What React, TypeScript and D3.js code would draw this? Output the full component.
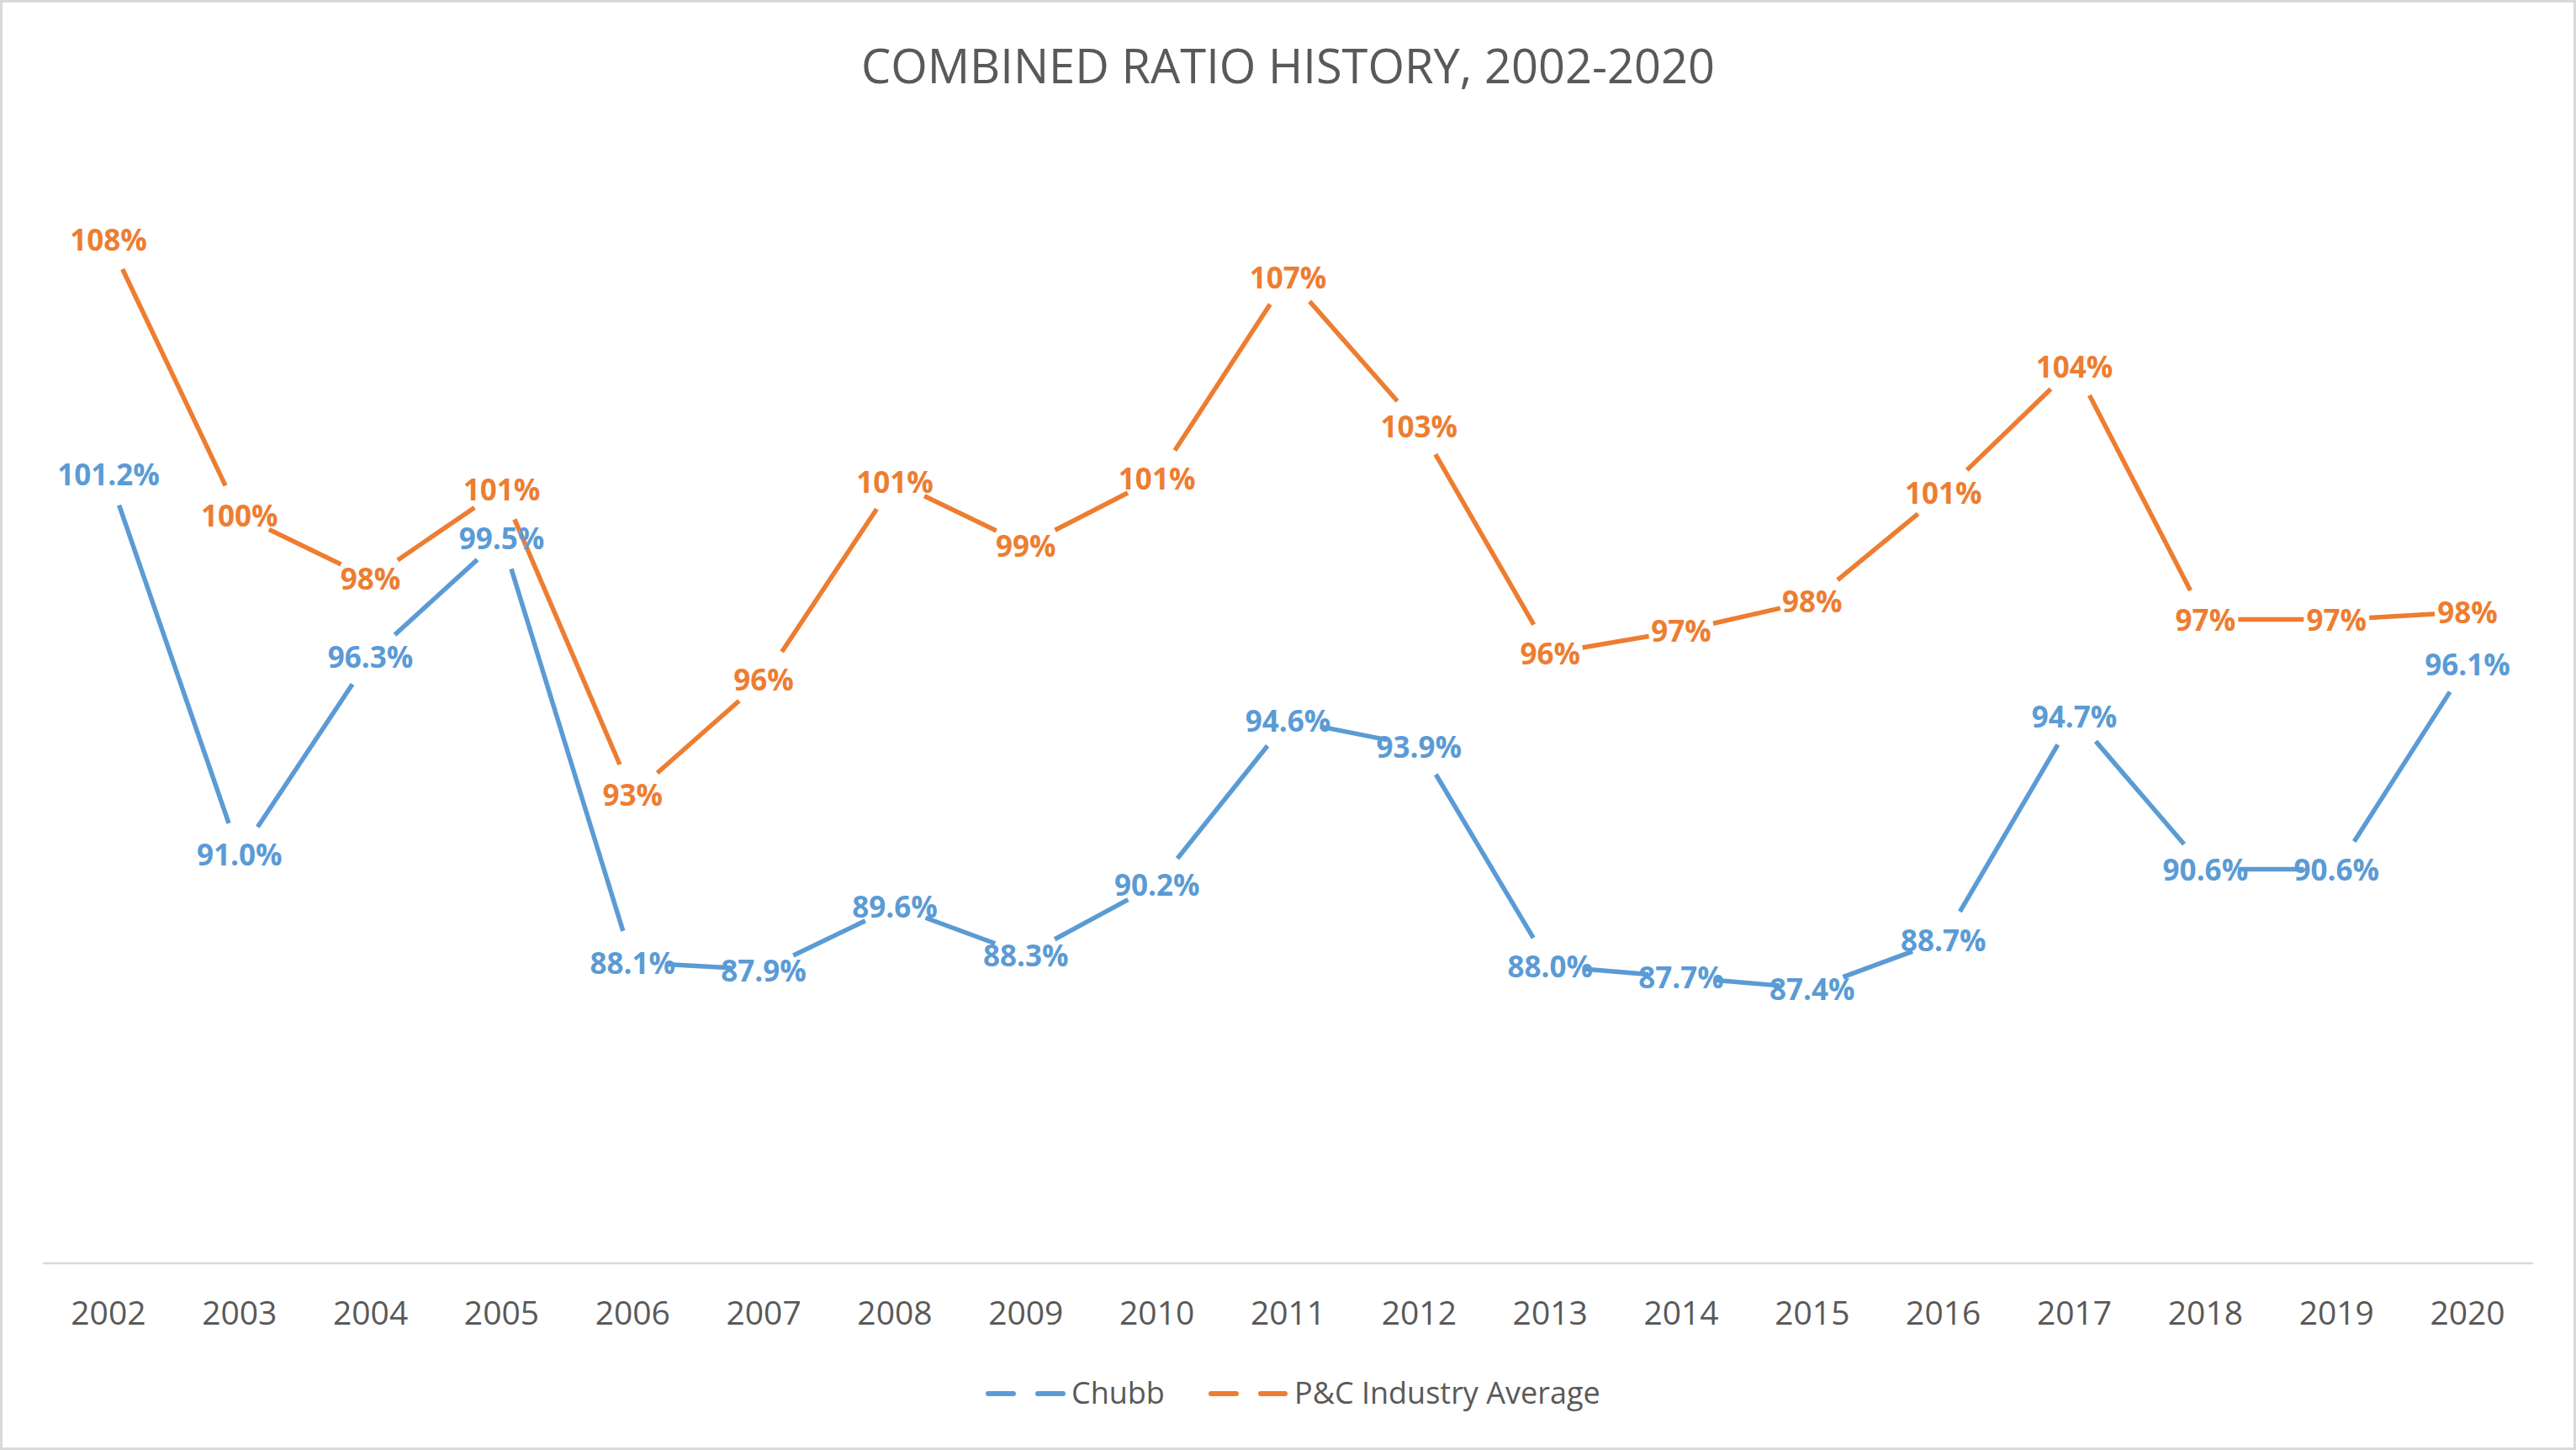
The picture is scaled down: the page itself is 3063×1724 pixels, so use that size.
import React from "react";
import * as d3 from "d3";

const years = [
  "2002", "2003", "2004", "2005", "2006", "2007", "2008", "2009", "2010", "2011",
  "2012", "2013", "2014", "2015", "2016", "2017", "2018", "2019", "2020",
];
const chubb = [
  101.2, 91.0, 96.3, 99.5, 88.1, 87.9, 89.6, 88.3, 90.2, 94.6,
  93.9, 88.0, 87.7, 87.4, 88.7, 94.7, 90.6, 90.6, 96.1,
];
const industry = [
  107.5, 100.1, 98.4, 100.8, 92.6, 95.7, 101.0, 99.3, 101.1, 106.5,
  102.5, 96.4, 97.0, 97.8, 100.7, 104.1, 97.3, 97.3, 97.5,
];

const W = 3063;
const H = 1724;
const FONT = "'Open Sans', 'DejaVu Sans', sans-serif";
const TEXT = "#595959";
const GRID = "#D9D9D9";

const series = [
  { name: "Chubb", values: chubb, color: "#5B9BD5", fmt: (v: number) => v.toFixed(1) + "%" },
  { name: "P&C Industry Average", values: industry, color: "#ED7D31", fmt: (v: number) => Math.round(v) + "%" },
];

const App = () => {
  const x = d3.scalePoint<string>().domain(years).range([51, 3012]).padding(0.5);
  const y = d3.scaleLinear().domain([80, 110]).range([1503, 174]);
  const gap = 39; // lines stop short of every point, leaving room for the label
  const line = d3.line<[number, number]>();

  const segments = (vals: number[]) => {
    const out: string[] = [];
    for (let i = 0; i < vals.length - 1; i++) {
      const x0 = x(years[i])!, y0 = y(vals[i]);
      const x1 = x(years[i + 1])!, y1 = y(vals[i + 1]);
      const len = Math.hypot(x1 - x0, y1 - y0);
      const ux = (x1 - x0) / len, uy = (y1 - y0) / len;
      out.push(
        line([
          [x0 + ux * gap, y0 + uy * gap],
          [x1 - ux * gap, y1 - uy * gap],
        ])!
      );
    }
    return out;
  };

  const legend = [
    { x1: 1175, x2: 1264, tx: 1274 },
    { x1: 1440, x2: 1528, tx: 1539 },
  ];

  return (
    <svg
      width={W}
      height={H}
      style={{ position: "absolute", left: 0, top: 0, background: "#fff" }}
      fontFamily={FONT}
    >
      <rect x={1.5} y={1.5} width={W - 3} height={H - 3} fill="#fff" stroke={GRID} strokeWidth={3} />
      <text x={W / 2} y={77} textAnchor="middle" dominantBaseline="central" fontSize={56} fill={TEXT}>
        COMBINED RATIO HISTORY, 2002-2020
      </text>

      <line x1={51} x2={3012} y1={1502} y2={1502} stroke={GRID} strokeWidth={2.5} />
      {years.map((yr) => (
        <text key={yr} x={x(yr)} y={1559} textAnchor="middle" dominantBaseline="central" fontSize={39} fill={TEXT}>
          {yr}
        </text>
      ))}

      {series.map((s) => (
        <g key={s.name}>
          {segments(s.values).map((d, i) => (
            <path key={i} d={d} fill="none" stroke={s.color} strokeWidth={5.5} />
          ))}
        </g>
      ))}
      {series.map((s) => (
        <g key={s.name + "-labels"}>
          {s.values.map((v, i) => (
            <text
              key={i}
              x={x(years[i])}
              y={y(v)}
              textAnchor="middle"
              dominantBaseline="central"
              fontSize={35}
              fontWeight={700}
              fill={s.color}
            >
              {s.fmt(v)}
            </text>
          ))}
        </g>
      ))}

      {series.map((s, i) => (
        <g key={s.name + "-legend"}>
          <line
            x1={legend[i].x1}
            x2={legend[i].x2}
            y1={1657}
            y2={1657}
            stroke={s.color}
            strokeWidth={6}
            strokeDasharray="30 29"
            strokeLinecap="round"
          />
          <text x={legend[i].tx} y={1655} dominantBaseline="central" fontSize={36} fill={TEXT}>
            {s.name}
          </text>
        </g>
      ))}
    </svg>
  );
};

export default App;
